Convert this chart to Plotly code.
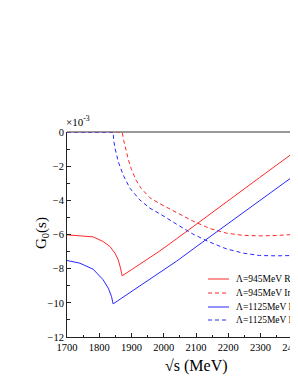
import plotly.graph_objects as go

# ---- data ----
x_re_945 = [1700, 1730, 1781, 1812, 1833, 1849, 1859, 1866, 1871, 1900, 1950, 1988,
            2040, 2091, 2143, 2194, 2246, 2297, 2349, 2414, 2425]
re_945 = [-6.02, -6.06, -6.14, -6.41, -6.70, -7.10, -7.49, -7.97, -8.42, -8.06, -7.43, -6.96,
          -6.25, -5.53, -4.81, -4.10, -3.38, -2.67, -1.95, -1.05, -0.90]

x_im_945 = [1700, 1871, 1876, 1882, 1890, 1900, 1915, 1930, 1957, 1988, 2040, 2091,
            2143, 2194, 2246, 2297, 2349, 2414, 2425]
im_945 = [0, 0, -0.5, -1.0, -1.6, -2.2, -2.85, -3.3, -3.85, -4.2, -4.72, -5.22,
          -5.65, -5.92, -6.05, -6.08, -6.06, -5.98, -5.97]

x_re_1125 = [1700, 1740, 1781, 1812, 1828, 1838, 1843, 1900, 1950, 1988, 2040, 2091,
             2143, 2194, 2246, 2297, 2349, 2414, 2425]
re_1125 = [-7.52, -7.68, -8.03, -8.65, -9.14, -9.63, -10.06, -9.35, -8.73, -8.26, -7.56, -6.85,
           -6.14, -5.44, -4.73, -4.02, -3.31, -2.42, -2.27]

x_im_1125 = [1700, 1843, 1845, 1849, 1859, 1874, 1895, 1926, 1957, 1988, 2040, 2091,
             2143, 2194, 2246, 2297, 2349, 2414, 2425]
im_1125 = [0, 0, -0.5, -0.95, -1.74, -2.51, -3.29, -3.98, -4.46, -4.79, -5.40, -5.98,
           -6.45, -6.84, -7.09, -7.23, -7.25, -7.23, -7.22]

series_names = ["Λ=945MeV Re", "Λ=945MeV Im", "Λ=1125MeV Re", "Λ=1125MeV Im"]

x_tickvals = [1700, 1800, 1900, 2000, 2100, 2200, 2300, 2400, 2500]
y_tickvals = [0, -2, -4, -6, -8, -10, -12]

RED = "rgb(255,40,40)"
BLUE = "rgb(40,40,255)"
DASH = "4px,3px"
FONT = "Liberation Serif, Times New Roman, serif"

styles = [(RED, "solid"), (RED, DASH), (BLUE, "solid"), (BLUE, DASH)]
xs = [x_re_945, x_im_945, x_re_1125, x_im_1125]
ys = [re_945, im_945, re_1125, im_1125]

fig = go.Figure()
for name, x, y, (c, d) in zip(series_names, xs, ys, styles):
    fig.add_trace(go.Scatter(x=x, y=y, mode="lines", name=name,
                             line=dict(color=c, width=1, dash=d), showlegend=False))

# the page adds an 8px body margin; all reference pixel positions are shifted by OFF
OFF = 8
W, H = 317, 377
ml, mr, mt, mb = 59, 0, 124, 48
pw, ph = W - ml - mr, H - mt - mb

def px_x(p):
    return (p - OFF - ml) / pw

def px_y(p):
    return (H - mb - (p - OFF)) / ph

fig.update_layout(
    width=W, height=H,
    margin=dict(l=ml, r=mr, t=mt, b=mb, autoexpand=False),
    paper_bgcolor="white", plot_bgcolor="white",
    font=dict(family=FONT, size=11, color="black"),
    showlegend=False,
)
fig.update_xaxes(
    range=[1700, 2500], tickvals=x_tickvals,
    ticks="inside", ticklen=4, tickcolor="#222", showline=True, linecolor="#222", linewidth=1,
    showgrid=False, zeroline=False, mirror=False,
    minor=dict(dtick=50, tick0=1700, ticks="inside", ticklen=2.5, tickcolor="#222"),
    tickfont=dict(size=10.5, family=FONT),
)
fig.update_yaxes(
    range=[-12, 0], tickvals=y_tickvals,
    ticks="inside", ticklen=4, tickcolor="#222", showline=True, linecolor="#222", linewidth=1,
    showgrid=False, zeroline=False, mirror=False,
    minor=dict(dtick=1, tick0=0, ticks="inside", ticklen=2.5, tickcolor="#222"),
    tickfont=dict(size=10.5, family=FONT),
)

# top frame line
fig.add_shape(type="line", xref="paper", yref="paper", x0=0, x1=1, y0=1, y1=1,
              line=dict(color="#777", width=1.5), layer="below")

# exponent label
fig.add_annotation(text="×10<sup>-3</sup>", xref="paper", yref="paper",
                   x=px_x(64), y=px_y(121), xanchor="left", yanchor="middle",
                   showarrow=False, font=dict(size=11, family=FONT))
# y-axis title
fig.add_annotation(text="G<sub>0</sub>(s)", xref="paper", yref="paper",
                   x=px_x(42), y=px_y(233), textangle=-90, xanchor="center", yanchor="middle",
                   showarrow=False, font=dict(size=15, family=FONT))
# x-axis title
fig.add_annotation(text="√s (MeV)", xref="paper", yref="paper",
                   x=px_x(196), y=px_y(366), xanchor="center", yanchor="middle",
                   showarrow=False, font=dict(size=16, family=FONT))

# legend (custom)
rows = [279, 293, 307, 320]
for name, (c, d), ry in zip(series_names, styles, rows):
    fig.add_shape(type="line", xref="paper", yref="paper",
                  x0=px_x(208), x1=px_x(229), y0=px_y(ry), y1=px_y(ry),
                  line=dict(color=c, width=1, dash=d))
    fig.add_annotation(text=name, xref="paper", yref="paper",
                       x=px_x(234), y=px_y(ry), xanchor="left", yanchor="middle",
                       showarrow=False, font=dict(size=9.5, family=FONT))

fig.write_html("out.html")
